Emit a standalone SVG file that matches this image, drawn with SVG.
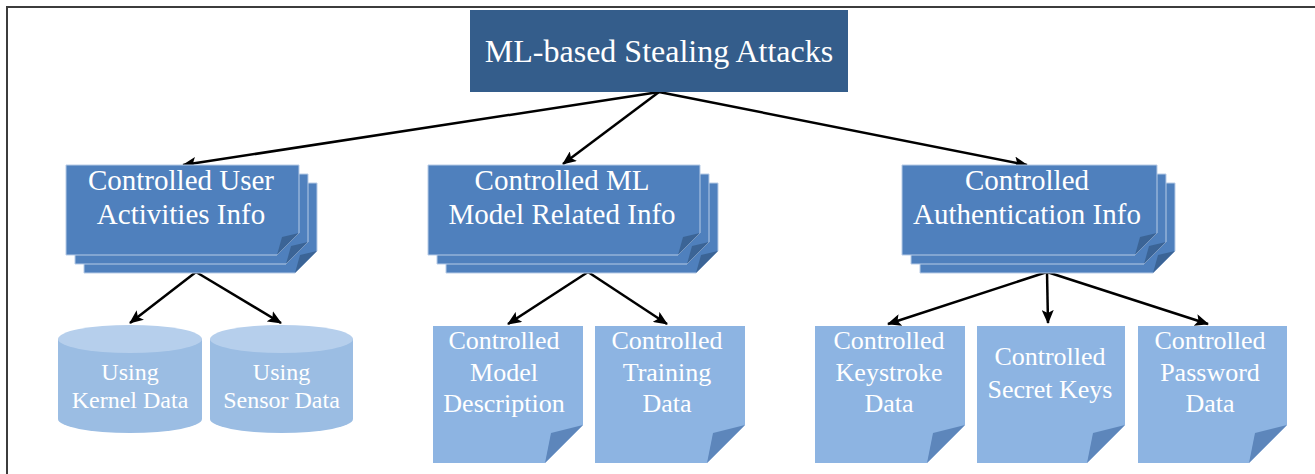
<svg xmlns="http://www.w3.org/2000/svg" width="1315" height="474" viewBox="0 0 1315 474">
  <defs>
    <style>
      .txt { font-family: "Liberation Serif", "Times New Roman", serif; fill: #ffffff; text-anchor: middle; }
      .t-title { font-size: 32px; }
      .t-mid { font-size: 29px; }
      .t-doc { font-size: 26px; }
      .t-cyl { font-size: 24px; }
      .title-box { fill: #345d8b; }
      .layer { fill: #4f80bd; stroke: #b7cbe6; stroke-width: 1; }
      .layer-fold { fill: #3b6496; }
      .doc { fill: #8db4e2; }
      .doc-fold { fill: #5d86bb; }
      .cyl-body { fill: #9bbde3; }
      .cyl-top { fill: #b6cfec; }
      .edge { stroke: #000000; stroke-width: 2.5; fill: none; marker-end: url(#arrow); }
      .frame { stroke: #3c3c3c; stroke-width: 2; fill: none; }
    </style>
    <marker id="arrow" markerUnits="userSpaceOnUse" markerWidth="14" markerHeight="12" viewBox="0 0 14 12" refX="13" refY="6" orient="auto">
      <path d="M0,0 L14,6 L0,12 L3,6 Z" fill="#000000"/>
    </marker>
  </defs>

  <rect width="1315" height="474" fill="#ffffff"/>
  <path class="frame" d="M7,474 V7 H1315"/>

  <!-- connectors -->
  <g id="connectors">
    <line class="edge" x1="659" y1="92" x2="183" y2="165"/>
    <line class="edge" x1="659" y1="92" x2="563" y2="164"/>
    <line class="edge" x1="659" y1="92" x2="1027" y2="165"/>
    <line class="edge" x1="196" y1="272" x2="130" y2="323"/>
    <line class="edge" x1="196" y1="272" x2="281" y2="323"/>
    <line class="edge" x1="588" y1="272" x2="508" y2="324"/>
    <line class="edge" x1="588" y1="272" x2="667" y2="324"/>
    <line class="edge" x1="1047" y1="272" x2="888" y2="324"/>
    <line class="edge" x1="1047" y1="272" x2="1048" y2="323"/>
    <line class="edge" x1="1047" y1="272" x2="1208" y2="324"/>
  </g>

  <!-- root -->
  <g id="root">
    <rect class="title-box" x="470" y="10" width="378" height="82"/>
    <text class="txt t-title" x="659" y="62">ML-based Stealing Attacks</text>
  </g>

  <!-- stacked category nodes: three layers, each with a folded corner -->
  <g id="user-activities">
    <path class="layer" d="M84,183 H317 V251 L295,273 H84 Z"/>
    <path class="layer-fold" d="M295,273 L300,255 L317,251 Z"/>
    <path class="layer" d="M75,174 H308 V242 L286,264 H75 Z"/>
    <path class="layer-fold" d="M286,264 L291,246 L308,242 Z"/>
    <path class="layer" d="M66,165 H299 V233 L277,255 H66 Z"/>
    <path class="layer-fold" d="M277,255 L282,237 L299,233 Z"/>
    <text class="txt t-mid" x="181" y="190">Controlled User</text>
    <text class="txt t-mid" x="181" y="224">Activities Info</text>
  </g>

  <g id="model-info">
    <path class="layer" d="M446,183 H718 V251 L696,273 H446 Z"/>
    <path class="layer-fold" d="M696,273 L701,255 L718,251 Z"/>
    <path class="layer" d="M437,174 H709 V242 L687,264 H437 Z"/>
    <path class="layer-fold" d="M687,264 L692,246 L709,242 Z"/>
    <path class="layer" d="M428,165 H700 V233 L678,255 H428 Z"/>
    <path class="layer-fold" d="M678,255 L683,237 L700,233 Z"/>
    <text class="txt t-mid" x="562" y="190">Controlled ML</text>
    <text class="txt t-mid" x="562" y="224">Model Related Info</text>
  </g>

  <g id="auth-info">
    <path class="layer" d="M920,183 H1175 V251 L1153,273 H920 Z"/>
    <path class="layer-fold" d="M1153,273 L1158,255 L1175,251 Z"/>
    <path class="layer" d="M911,174 H1166 V242 L1144,264 H911 Z"/>
    <path class="layer-fold" d="M1144,264 L1149,246 L1166,242 Z"/>
    <path class="layer" d="M902,165 H1157 V233 L1135,255 H902 Z"/>
    <path class="layer-fold" d="M1135,255 L1140,237 L1157,233 Z"/>
    <text class="txt t-mid" x="1027" y="190">Controlled</text>
    <text class="txt t-mid" x="1027" y="224">Authentication Info</text>
  </g>

  <!-- data stores -->
  <g id="kernel-data">
    <path class="cyl-body" d="M58,339 V419 A72,14 0 0 0 202,419 V339 Z"/>
    <ellipse class="cyl-top" cx="130" cy="339" rx="72" ry="14"/>
    <text class="txt t-cyl" x="130" y="380">Using</text>
    <text class="txt t-cyl" x="130" y="408">Kernel Data</text>
  </g>

  <g id="sensor-data">
    <path class="cyl-body" d="M210,339 V419 A71.5,14 0 0 0 353,419 V339 Z"/>
    <ellipse class="cyl-top" cx="281.5" cy="339" rx="71.5" ry="14"/>
    <text class="txt t-cyl" x="281.5" y="380">Using</text>
    <text class="txt t-cyl" x="281.5" y="408">Sensor Data</text>
  </g>

  <!-- document leaves with folded corners -->
  <g id="model-description">
    <path class="doc" d="M433,326 H583 V425 L545,463 H433 Z"/>
    <path class="doc-fold" d="M545,463 L551,433 L583,425 Z"/>
    <text class="txt t-doc" x="504" y="349">Controlled</text>
    <text class="txt t-doc" x="504" y="381">Model</text>
    <text class="txt t-doc" x="504" y="412">Description</text>
  </g>

  <g id="training-data">
    <path class="doc" d="M595,326 H745 V425 L707,463 H595 Z"/>
    <path class="doc-fold" d="M707,463 L713,433 L745,425 Z"/>
    <text class="txt t-doc" x="667" y="349">Controlled</text>
    <text class="txt t-doc" x="667" y="381">Training</text>
    <text class="txt t-doc" x="667" y="412">Data</text>
  </g>

  <g id="keystroke-data">
    <path class="doc" d="M815,326 H965 V425 L927,463 H815 Z"/>
    <path class="doc-fold" d="M927,463 L933,433 L965,425 Z"/>
    <text class="txt t-doc" x="889" y="349">Controlled</text>
    <text class="txt t-doc" x="889" y="381">Keystroke</text>
    <text class="txt t-doc" x="889" y="412">Data</text>
  </g>

  <g id="secret-keys">
    <path class="doc" d="M977,326 H1125 V425 L1087,463 H977 Z"/>
    <path class="doc-fold" d="M1087,463 L1093,433 L1125,425 Z"/>
    <text class="txt t-doc" x="1050" y="365">Controlled</text>
    <text class="txt t-doc" x="1050" y="398">Secret Keys</text>
  </g>

  <g id="password-data">
    <path class="doc" d="M1138,326 H1287 V425 L1249,463 H1138 Z"/>
    <path class="doc-fold" d="M1249,463 L1255,433 L1287,425 Z"/>
    <text class="txt t-doc" x="1210" y="349">Controlled</text>
    <text class="txt t-doc" x="1210" y="381">Password</text>
    <text class="txt t-doc" x="1210" y="412">Data</text>
  </g>
</svg>
